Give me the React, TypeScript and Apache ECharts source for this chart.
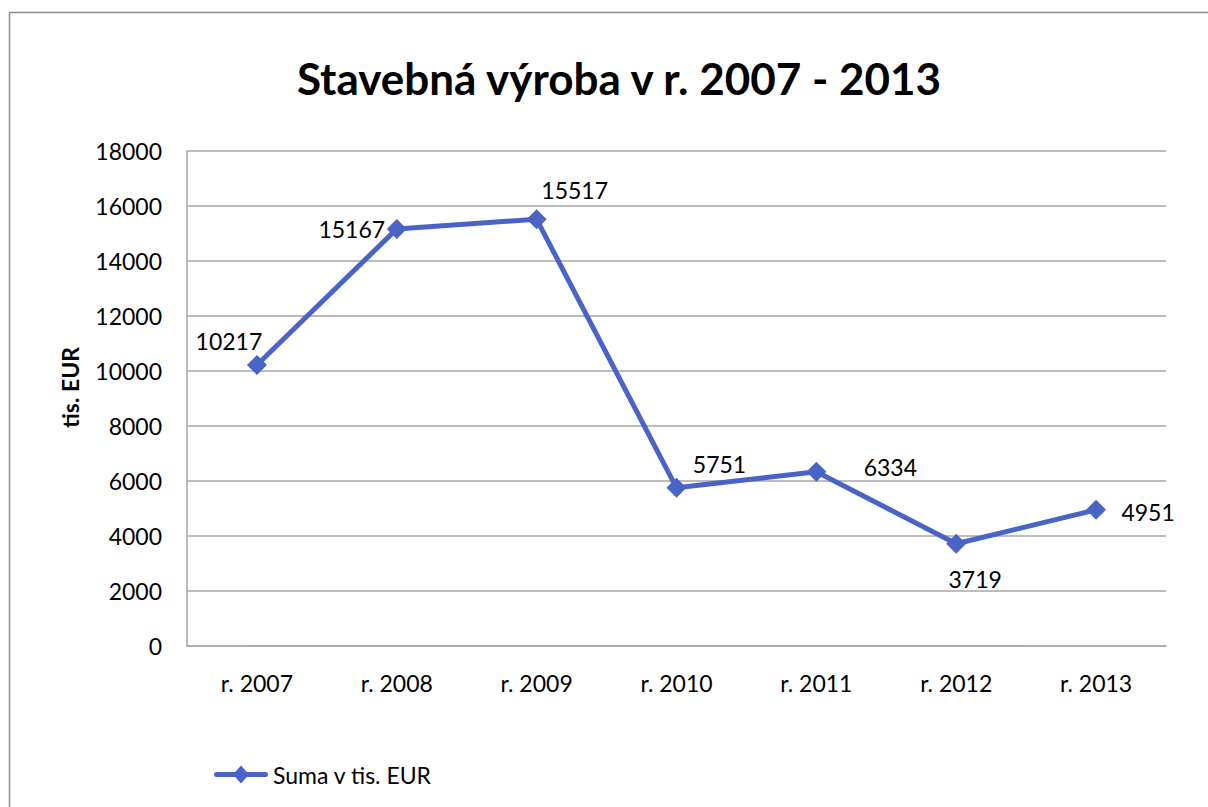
import React, { useEffect, useRef } from "react";
import * as echarts from "echarts";

const categories = ["r. 2007", "r. 2008", "r. 2009", "r. 2010", "r. 2011", "r. 2012", "r. 2013"];
const values = [10217, 15167, 15517, 5751, 6334, 3719, 4951];
const labelOffsets: [number, number][] = [
  [-28, -24],
  [-45, 0],
  [38, -29],
  [43, -24],
  [74, -5],
  [19, 35],
  [52, 2],
];
const seriesName = "Suma v tis. EUR";
const titleText = "Stavebná výroba v r. 2007 - 2013";
const yAxisName = "tis. EUR";

const FONT = "Lato, 'Noto Sans', sans-serif";
const BLUE = "#4a63c7";
const GRID = "#a6a6a6";
const FS = 23;
const LEGEND_ICON =
  "path://M2.5,6.5 L51.5,6.5 A2.5,2.5 0 0 1 51.5,11.5 L2.5,11.5 A2.5,2.5 0 0 1 2.5,6.5 Z M27,0 L35,9 L27,18 L19,9 Z";

export default function App() {
  const ref = useRef<HTMLDivElement>(null);
  useEffect(() => {
    if (!ref.current) return;
    const chart = echarts.init(ref.current, undefined, { renderer: "svg" });
    chart.setOption({
      animation: false,
      backgroundColor: "#ffffff",
      graphic: [
        {
          type: "rect",
          shape: { x: 9.5, y: 12.5, width: 1400, height: 1000 },
          style: { fill: "none", stroke: "#8c8c8c", lineWidth: 1.5 },
          silent: true,
          z: -1,
        },
        {
          type: "text",
          x: 619,
          y: 78,
          style: {
            text: titleText,
            font: `bold 44px ${FONT}`,
            fill: "#000",
            align: "center",
            verticalAlign: "middle",
          },
        },
      ],
      grid: { left: 187, right: 42, top: 151, bottom: 161, containLabel: false },
      legend: {
        left: 209,
        top: 758,
        itemWidth: 54,
        itemHeight: 18,
        icon: LEGEND_ICON,
        itemStyle: { color: BLUE },
        textStyle: { fontFamily: FONT, fontSize: FS, color: "#000" },
        data: [seriesName],
      },
      xAxis: {
        type: "category",
        data: categories,
        boundaryGap: true,
        axisTick: { show: false },
        axisLine: { lineStyle: { color: GRID, width: 1.5 } },
        axisLabel: { fontFamily: FONT, fontSize: FS, color: "#000", margin: 25 },
      },
      yAxis: {
        type: "value",
        min: 0,
        max: 18000,
        interval: 2000,
        name: yAxisName,
        nameLocation: "middle",
        nameGap: 106,
        nameTextStyle: {
          fontFamily: FONT,
          fontSize: FS,
          fontWeight: "bold",
          color: "#000",
          padding: [0, 0, 0, 22],
        },
        axisLine: { show: true, lineStyle: { color: GRID, width: 1.5 } },
        axisTick: { show: false },
        splitLine: { lineStyle: { color: GRID, width: 1.5 } },
        axisLabel: {
          fontFamily: FONT,
          fontSize: FS,
          color: "#000",
          margin: 25,
          formatter: (v: number) => String(v),
        },
      },
      series: [
        {
          name: seriesName,
          type: "line",
          data: values.map((v, i) => ({
            value: v,
            label: { show: true, position: "inside", offset: labelOffsets[i] },
          })),
          symbol: "diamond",
          symbolSize: 20,
          lineStyle: { color: BLUE, width: 5 },
          itemStyle: { color: BLUE },
          label: {
            show: true,
            fontFamily: FONT,
            fontSize: FS,
            color: "#000",
          },
        },
      ],
    });
    return () => chart.dispose();
  }, []);
  return (
    <div
      ref={ref}
      style={{ position: "absolute", left: 0, top: 0, width: 1208, height: 807 }}
    />
  );
}
